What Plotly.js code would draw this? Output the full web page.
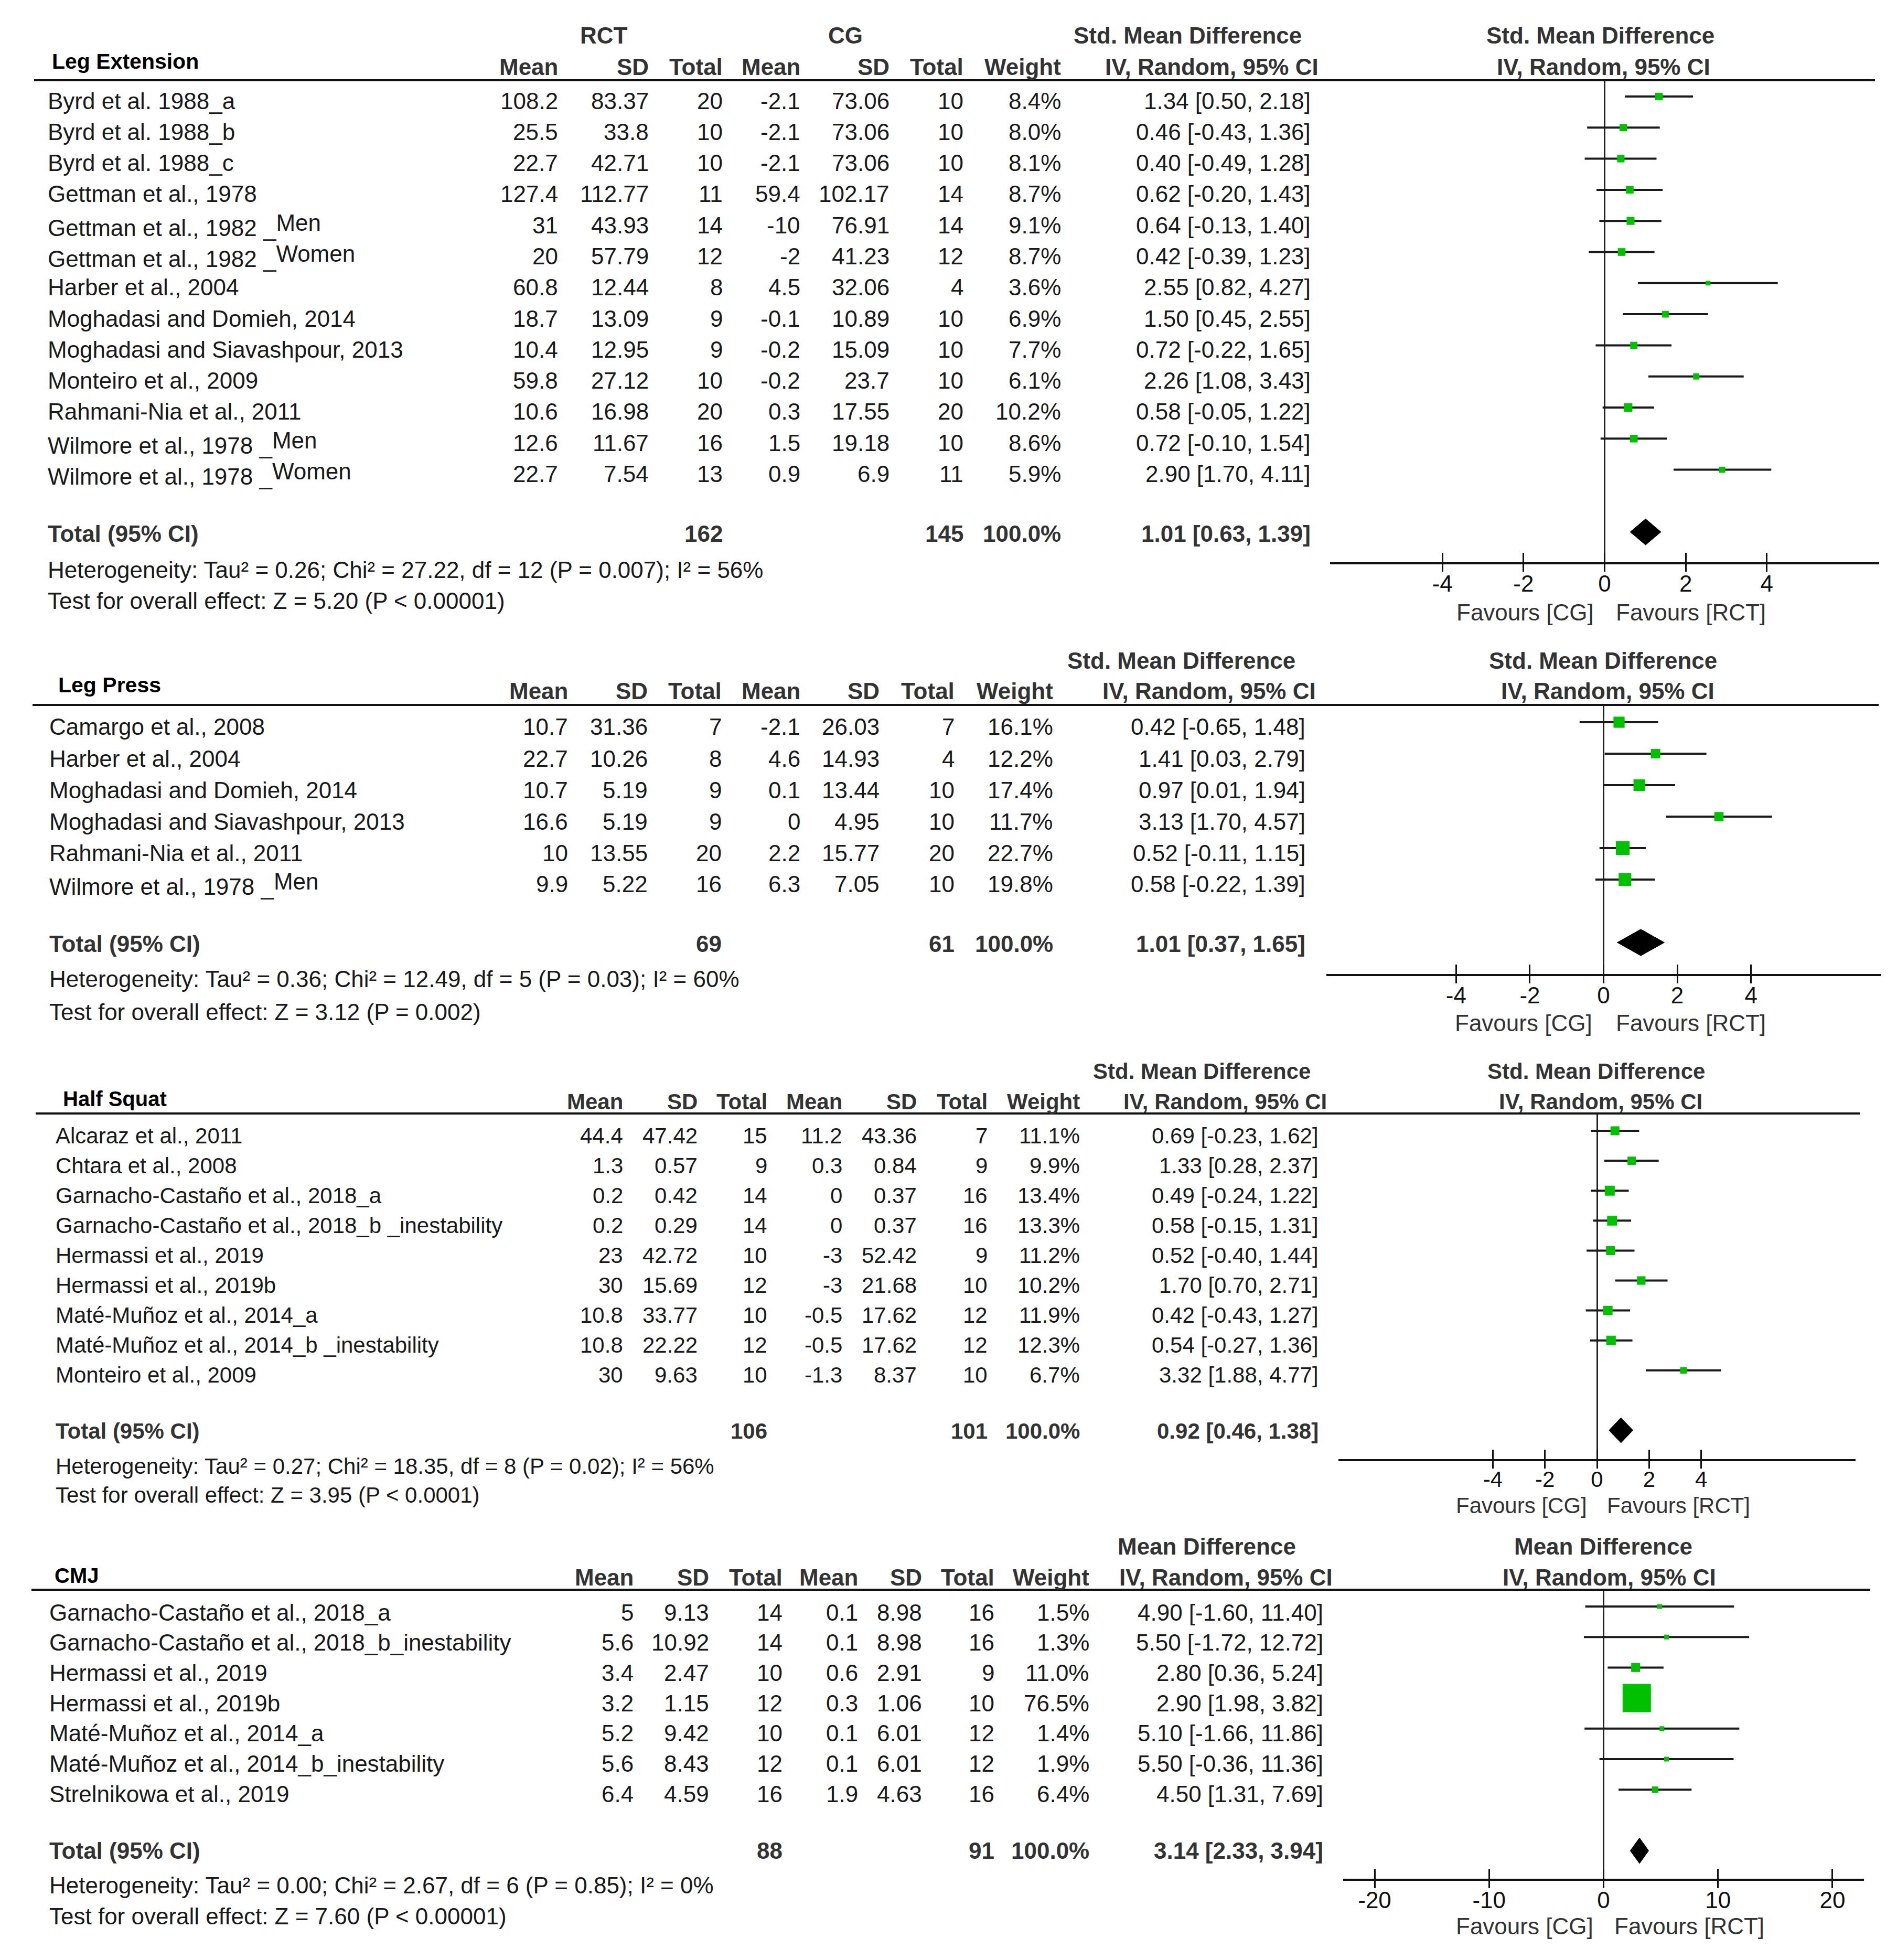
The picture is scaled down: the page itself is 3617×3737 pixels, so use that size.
<!DOCTYPE html>
<html><head><meta charset="utf-8">
<script src="https://cdn.plot.ly/plotly-3.0.1.min.js"></script>
<style>html,body{margin:0;padding:0;background:#fff}</style>
</head><body>
<div id="chart" style="width:3617px;height:3737px"></div>
<script>
// ===================== DATA =====================
// ---- Leg Extension ----
const leNames = ['Byrd et al. 1988_a','Byrd et al. 1988_b','Byrd et al. 1988_c','Gettman et al., 1978',
  'Gettman et al., 1982 _<span style="baseline-shift:10px">Men</span>',
  'Gettman et al., 1982 _<span style="baseline-shift:10px">Women</span>',
  'Harber et al., 2004','Moghadasi and Domieh, 2014','Moghadasi and Siavashpour, 2013','Monteiro et al., 2009',
  'Rahmani-Nia et al., 2011','Wilmore et al., 1978 _<span style="baseline-shift:10px">Men</span>',
  'Wilmore et al., 1978 _<span style="baseline-shift:10px">Women</span>'];
const leRctMean = [108.2,25.5,22.7,127.4,31,20,60.8,18.7,10.4,59.8,10.6,12.6,22.7];
const leRctSD   = [83.37,33.8,42.71,112.77,43.93,57.79,12.44,13.09,12.95,27.12,16.98,11.67,7.54];
const leRctN    = [20,10,10,11,14,12,8,9,9,10,20,16,13];
const leCgMean  = [-2.1,-2.1,-2.1,59.4,-10,-2,4.5,-0.1,-0.2,-0.2,0.3,1.5,0.9];
const leCgSD    = [73.06,73.06,73.06,102.17,76.91,41.23,32.06,10.89,15.09,23.7,17.55,19.18,6.9];
const leCgN     = [10,10,10,14,14,12,4,10,10,10,20,10,11];
const leWeight  = [8.4,8.0,8.1,8.7,9.1,8.7,3.6,6.9,7.7,6.1,10.2,8.6,5.9];
const leEst     = [1.34,0.46,0.40,0.62,0.64,0.42,2.55,1.50,0.72,2.26,0.58,0.72,2.90];
const leLo      = [0.50,-0.43,-0.49,-0.20,-0.13,-0.39,0.82,0.45,-0.22,1.08,-0.05,-0.10,1.70];
const leHi      = [2.18,1.36,1.28,1.43,1.40,1.23,4.27,2.55,1.65,3.43,1.22,1.54,4.11];
const leTotalN  = [162,145];
const leTotal   = [1.01,0.63,1.39];
const leHet  = 'Heterogeneity: Tau² = 0.26; Chi² = 27.22, df = 12 (P = 0.007); I² = 56%';
const leTest = 'Test for overall effect: Z = 5.20 (P < 0.00001)';

// ---- Leg Press ----
const lpNames = ['Camargo et al., 2008','Harber et al., 2004','Moghadasi and Domieh, 2014','Moghadasi and Siavashpour, 2013',
  'Rahmani-Nia et al., 2011','Wilmore et al., 1978 _<span style="baseline-shift:10px">Men</span>'];
const lpRctMean = [10.7,22.7,10.7,16.6,10,9.9];
const lpRctSD   = [31.36,10.26,5.19,5.19,13.55,5.22];
const lpRctN    = [7,8,9,9,20,16];
const lpCgMean  = [-2.1,4.6,0.1,0,2.2,6.3];
const lpCgSD    = [26.03,14.93,13.44,4.95,15.77,7.05];
const lpCgN     = [7,4,10,10,20,10];
const lpWeight  = [16.1,12.2,17.4,11.7,22.7,19.8];
const lpEst     = [0.42,1.41,0.97,3.13,0.52,0.58];
const lpLo      = [-0.65,0.03,0.01,1.70,-0.11,-0.22];
const lpHi      = [1.48,2.79,1.94,4.57,1.15,1.39];
const lpTotalN  = [69,61];
const lpTotal   = [1.01,0.37,1.65];
const lpHet  = 'Heterogeneity: Tau² = 0.36; Chi² = 12.49, df = 5 (P = 0.03); I² = 60%';
const lpTest = 'Test for overall effect: Z = 3.12 (P = 0.002)';

// ---- Half Squat ----
const hsNames = ['Alcaraz et al., 2011','Chtara et al., 2008','Garnacho-Castaño et al., 2018_a',
  'Garnacho-Castaño et al., 2018_b _inestability','Hermassi et al., 2019','Hermassi et al., 2019b',
  'Maté-Muñoz et al., 2014_a','Maté-Muñoz et al., 2014_b _inestability','Monteiro et al., 2009'];
const hsRctMean = [44.4,1.3,0.2,0.2,23,30,10.8,10.8,30];
const hsRctSD   = [47.42,0.57,0.42,0.29,42.72,15.69,33.77,22.22,9.63];
const hsRctN    = [15,9,14,14,10,12,10,12,10];
const hsCgMean  = [11.2,0.3,0,0,-3,-3,-0.5,-0.5,-1.3];
const hsCgSD    = [43.36,0.84,0.37,0.37,52.42,21.68,17.62,17.62,8.37];
const hsCgN     = [7,9,16,16,9,10,12,12,10];
const hsWeight  = [11.1,9.9,13.4,13.3,11.2,10.2,11.9,12.3,6.7];
const hsEst     = [0.69,1.33,0.49,0.58,0.52,1.70,0.42,0.54,3.32];
const hsLo      = [-0.23,0.28,-0.24,-0.15,-0.40,0.70,-0.43,-0.27,1.88];
const hsHi      = [1.62,2.37,1.22,1.31,1.44,2.71,1.27,1.36,4.77];
const hsTotalN  = [106,101];
const hsTotal   = [0.92,0.46,1.38];
const hsHet  = 'Heterogeneity: Tau² = 0.27; Chi² = 18.35, df = 8 (P = 0.02); I² = 56%';
const hsTest = 'Test for overall effect: Z = 3.95 (P < 0.0001)';

// ---- CMJ ----
const cmNames = ['Garnacho-Castaño et al., 2018_a','Garnacho-Castaño et al., 2018_b_inestability','Hermassi et al., 2019',
  'Hermassi et al., 2019b','Maté-Muñoz et al., 2014_a','Maté-Muñoz et al., 2014_b_inestability','Strelnikowa et al., 2019'];
const cmRctMean = [5,5.6,3.4,3.2,5.2,5.6,6.4];
const cmRctSD   = [9.13,10.92,2.47,1.15,9.42,8.43,4.59];
const cmRctN    = [14,14,10,12,10,12,16];
const cmCgMean  = [0.1,0.1,0.6,0.3,0.1,0.1,1.9];
const cmCgSD    = [8.98,8.98,2.91,1.06,6.01,6.01,4.63];
const cmCgN     = [16,16,9,10,12,12,16];
const cmWeight  = [1.5,1.3,11.0,76.5,1.4,1.9,6.4];
const cmEst     = [4.90,5.50,2.80,2.90,5.10,5.50,4.50];
const cmLo      = [-1.60,-1.72,0.36,1.98,-1.66,-0.36,1.31];
const cmHi      = [11.40,12.72,5.24,3.82,11.86,11.36,7.69];
const cmTotalN  = [88,91];
const cmTotal   = [3.14,2.33,3.94];
const cmHet  = 'Heterogeneity: Tau² = 0.00; Chi² = 2.67, df = 6 (P = 0.85); I² = 0%';
const cmTest = 'Test for overall effect: Z = 7.60 (P < 0.00001)';

// ---- shared labels ----
const colHeads = ['Mean','SD','Total','Mean','SD','Total','Weight'];
const smdTicks = [-4,-2,0,2,4];
const smdTickText = ['-4','-2','0','2','4'];
const mdTicks = [-20,-10,0,10,20];
const mdTickText = ['-20','-10','0','10','20'];

// ===================== SECTIONS (data refs) =====================
const sections = [
  {title:'Leg Extension', eff:'Std. Mean Difference', method:'IV, Random, 95% CI', names:leNames, rm:leRctMean, rs:leRctSD, rn:leRctN,
   cm:leCgMean, cs:leCgSD, cn:leCgN, w:leWeight, est:leEst, lo:leLo, hi:leHi, totN:leTotalN, tot:leTotal, het:leHet, test:leTest,
   tv:smdTicks, tt:smdTickText, groups:true},
  {title:'Leg Press', eff:'Std. Mean Difference', method:'IV, Random, 95% CI', names:lpNames, rm:lpRctMean, rs:lpRctSD, rn:lpRctN,
   cm:lpCgMean, cs:lpCgSD, cn:lpCgN, w:lpWeight, est:lpEst, lo:lpLo, hi:lpHi, totN:lpTotalN, tot:lpTotal, het:lpHet, test:lpTest,
   tv:smdTicks, tt:smdTickText},
  {title:'Half Squat', eff:'Std. Mean Difference', method:'IV, Random, 95% CI', names:hsNames, rm:hsRctMean, rs:hsRctSD, rn:hsRctN,
   cm:hsCgMean, cs:hsCgSD, cn:hsCgN, w:hsWeight, est:hsEst, lo:hsLo, hi:hsHi, totN:hsTotalN, tot:hsTotal, het:hsHet, test:hsTest,
   tv:smdTicks, tt:smdTickText},
  {title:'CMJ', eff:'Mean Difference', method:'IV, Random, 95% CI', names:cmNames, rm:cmRctMean, rs:cmRctSD, rn:cmRctN,
   cm:cmCgMean, cs:cmCgSD, cn:cmCgN, w:cmWeight, est:cmEst, lo:cmLo, hi:cmHi, totN:cmTotalN, tot:cmTotal, het:cmHet, test:cmTest,
   tv:mdTicks, tt:mdTickText}
];

// ===================== GEOMETRY (pixel layout) =====================
const geom = [
  {fs:44, labelX:98, labelY:117, labelFs:41, head1Y:67, head2Y:128, effC:2264, grpRCT:1151, grpCG:1612,
   colR:[1065,1238,1379,1527,1697,1838,2024], ciHeadR:2515, ciR:2500, nameX:90, row0:192, dy:59.3,
   totY:1018, hetY:1086, testY:1145, lineY:153, lineX:[65,3575],
   axL:2536, axR:3583, rng:6.77, axY:1072, mk0:184, mdy:59.3, fh1C:3051, fh2C:3057, favY:1167, favCG:3040, favRCT:3080},
  {fs:44, labelX:110, labelY:1306, labelFs:41, head1Y:1259, head2Y:1317, effC:2252,
   colR:[1084,1236,1377,1527,1678,1821,2009], ciHeadR:2510, ciR:2490, nameX:93, row0:1386, dy:60,
   totY:1799, hetY:1866, testY:1929, lineY:1344, lineX:[62,3582],
   axL:2529, axR:3586, rng:7.52, axY:1857, mk0:1377, mdy:60, fh1C:3056, fh2C:3065, favY:1950, favCG:3037, favRCT:3080},
  {fs:42, labelX:119, labelY:2095, labelFs:40, head1Y:2043, head2Y:2100, effC:2291,
   colR:[1189,1331,1464,1607,1749,1884,2060], ciHeadR:2531, ciR:2515, nameX:105, row0:2165, dy:57,
   totY:2728, hetY:2795, testY:2850, lineY:2123, lineX:[68,3546],
   axL:2552, axR:3538, rng:9.93, axY:2782, mk0:2156, mdy:57.1, fh1C:3043, fh2C:3052, favY:2870, favCG:3027, favRCT:3063},
  {fs:44, labelX:103, labelY:3004, labelFs:40, head1Y:2948, head2Y:3007, effC:2301,
   colR:[1209,1353,1493,1637,1759,1897,2078], ciHeadR:2542, ciR:2524, nameX:93, row0:3074, dy:57.7,
   totY:3528, hetY:3594, testY:3653, lineY:3031, lineX:[60,3566],
   axL:2561, axR:3554, rng:22.75, axY:3582, mk0:3063, mdy:58.2, fh1C:3057, fh2C:3068, favY:3672, favCG:3039, favRCT:3077}
];

// ===================== BUILD =====================
const W = 3617, H = 3737;
const FONT = '"Liberation Sans", Arial, Helvetica, sans-serif';
const X = p => p / W, Y = p => 1 - p / H;
const annotations = [], shapes = [], traces = [];
const layout = {width:W, height:H, margin:{l:0,r:0,t:0,b:0}, paper_bgcolor:'#fff', plot_bgcolor:'rgba(0,0,0,0)',
  showlegend:false, font:{family:FONT}, hovermode:false, annotations, shapes};

function txt(x, y, t, anchor, size, bold, color) {
  annotations.push({xref:'paper', yref:'paper', x:X(x), y:Y(y), text:t, showarrow:false,
    xanchor:anchor, yanchor:'middle', borderpad:0,
    font:{family:FONT, size:size, color:color, weight: bold ? 700 : 400}});
}
const fmt = v => String(v);
const ci = (e, l, h) => e.toFixed(2) + ' [' + l.toFixed(2) + ', ' + h.toFixed(2) + ']';

sections.forEach((d, k) => {
  const g = geom[k];
  const fs = g.fs, body = '#1a1a1a', head = '#333';
  const n = d.names.length;
  // header rule
  shapes.push({type:'line', xref:'paper', yref:'paper', x0:X(g.lineX[0]), x1:X(g.lineX[1]), y0:Y(g.lineY), y1:Y(g.lineY),
    line:{color:'#111', width:4}});
  // headers
  txt(g.labelX, g.labelY, d.title, 'left', g.labelFs, true, '#000');
  if (d.groups) {
    txt(g.grpRCT, g.head1Y, 'RCT', 'center', fs, true, head);
    txt(g.grpCG, g.head1Y, 'CG', 'center', fs, true, head);
  }
  txt(g.effC, g.head1Y, d.eff, 'center', fs, true, head);
  txt(g.fh1C, g.head1Y, d.eff, 'center', fs, true, head);
  colHeads.forEach((h, i) => txt(g.colR[i], g.head2Y, h, 'right', fs, true, head));
  txt(g.ciHeadR, g.head2Y, d.method, 'right', fs, true, head);
  txt(g.fh2C, g.head2Y, d.method, 'center', fs, true, head);
  // rows
  for (let i = 0; i < n; i++) {
    const y = g.row0 + g.dy * i;
    txt(g.nameX, y, d.names[i], 'left', fs, false, body);
    const vals = [fmt(d.rm[i]), fmt(d.rs[i]), fmt(d.rn[i]), fmt(d.cm[i]), fmt(d.cs[i]), fmt(d.cn[i]), d.w[i].toFixed(1) + '%'];
    vals.forEach((v, j) => txt(g.colR[j], y, v, 'right', fs, false, body));
    txt(g.ciR, y, ci(d.est[i], d.lo[i], d.hi[i]), 'right', fs, false, body);
  }
  // total row
  txt(g.nameX, g.totY, 'Total (95% CI)', 'left', fs, true, head);
  txt(g.colR[2], g.totY, fmt(d.totN[0]), 'right', fs, true, head);
  txt(g.colR[5], g.totY, fmt(d.totN[1]), 'right', fs, true, head);
  txt(g.colR[6], g.totY, '100.0%', 'right', fs, true, head);
  txt(g.ciR, g.totY, ci(d.tot[0], d.tot[1], d.tot[2]), 'right', fs, true, head);
  txt(g.nameX, g.hetY, d.het, 'left', fs, false, body);
  txt(g.nameX, g.testY, d.test, 'left', fs, false, body);
  // favours
  txt(g.favCG, g.favY, 'Favours [CG]', 'right', fs, false, head);
  txt(g.favRCT, g.favY, 'Favours [RCT]', 'left', fs, false, head);

  // forest axes
  const sfx = k === 0 ? '' : String(k + 1);
  const ovl = String(k + 5);
  const yTop = (g.lineY - g.mk0) / g.mdy, yBot = (g.axY - g.mk0) / g.mdy;
  layout['xaxis' + sfx] = {domain:[X(g.axL), X(g.axR)], anchor:'y' + sfx, range:[-g.rng, g.rng],
    showline:true, linecolor:'#111', linewidth:4, ticks:'outside', ticklen:14, tickwidth:3, tickcolor:'#111',
    ticklabelstandoff:-15,
    tickmode:'array', tickvals:d.tv, ticktext:d.tt, tickfont:{family:FONT, size:fs, color:'#111'},
    showgrid:false, zeroline:true, zerolinecolor:'#222', zerolinewidth:3, fixedrange:true};
  layout['xaxis' + ovl] = {overlaying:'x' + sfx, anchor:'y' + sfx, side:'bottom', range:[-g.rng, g.rng],
    showline:false, ticks:'inside', ticklen:18, tickwidth:3, tickcolor:'#111', tickmode:'array', tickvals:d.tv,
    showticklabels:false, showgrid:false, zeroline:false, fixedrange:true};
  layout['yaxis' + sfx] = {domain:[Y(g.axY), Y(g.lineY)], anchor:'x' + sfx, range:[yBot, yTop],
    visible:false, showgrid:false, zeroline:false, fixedrange:true};

  // CI whiskers as line segments (drawn first, under the squares)
  const cx = [], cy = [];
  d.lo.forEach((l, i) => { cx.push(l, d.hi[i], null); cy.push(i, i, null); });
  traces.push({type:'scatter', mode:'lines', xaxis:'x' + sfx, yaxis:'y' + sfx, x:cx, y:cy,
    line:{color:'#1a1a1a', width:4}, connectgaps:false, hoverinfo:'skip'});
  // study weight squares (opaque)
  traces.push({type:'scatter', mode:'markers', xaxis:'x' + sfx, yaxis:'y' + sfx,
    x:d.est, y:d.est.map((_, i) => i),
    marker:{symbol:'square', color:'#00c000', opacity:1,
      size:d.w.map(w => Math.max(9, 4.0 * Math.pow(w, 0.6))), line:{width:0}},
    hoverinfo:'skip'});
  // pooled diamond
  const t = n + 1, hh = 0.42;
  traces.push({type:'scatter', mode:'lines', xaxis:'x' + ovl, yaxis:'y' + sfx,
    x:[d.tot[1], d.tot[0], d.tot[2], d.tot[0], d.tot[1]], y:[t, t - hh, t, t + hh, t],
    fill:'toself', fillcolor:'#000', line:{width:1, color:'#000'}, hoverinfo:'skip'});
});

Plotly.newPlot('chart', traces, layout, {staticPlot:true, displayModeBar:false});
</script>
</body></html>
